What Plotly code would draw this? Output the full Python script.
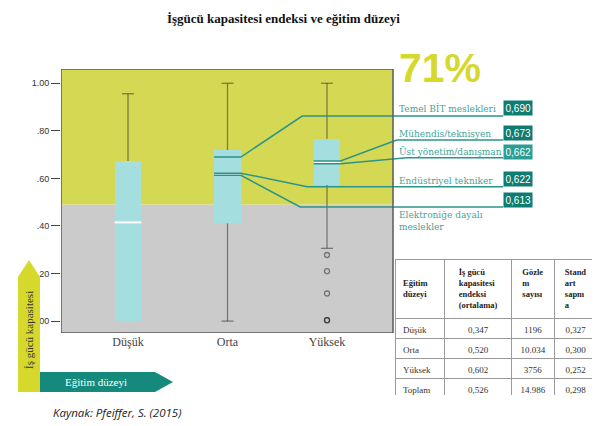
import plotly.graph_objects as go

# ---------------- data ----------------
categories = ["Düşük", "Orta", "Yüksek"]
q1 = [0.0, 0.411, 0.572]
median = [0.415, 0.618, 0.668]
q3 = [0.673, 0.719, 0.767]
whisker_low = [0.0, 0.0, 0.306]
whisker_high = [0.956, 1.0, 1.0]
outliers_yuksek = [0.278, 0.21, 0.116, 0.004, 0.004, 0.004]
yellow_threshold = 0.49

occ_labels = ["Temel BİT meslekleri", "Mühendis/teknisyen", "Üst yönetim/danışman",
              "Endüstriyel tekniker", "Elektroniğe dayalı<br>meslekler"]
occ_values = [0.690, 0.673, 0.662, 0.622, 0.613]
occ_value_text = ["0,690", "0,673", "0,662", "0,622", "0,613"]
occ_group = [1, 2, 2, 1, 1]

big_label = "71%"

table_header = ["&nbsp;<br><b>Eğitim<br>düzeyi</b>",
                "<b>İş gücü<br>kapasitesi<br>endeksi<br>(ortalama)</b>",
                "<b>Gözle<br>m<br>sayısı</b>", "<b>Stand<br>art<br>sapm<br>a</b>"]
table_level = ["Düşük", "Orta", "Yüksek", "Toplam"]
table_mean = ["0,347", "0,520", "0,602", "0,526"]
table_n = ["1196", "10.034", "3756", "14.986"]
table_sd = ["0,327", "0,300", "0,252", "0,298"]

# ---------------- layout constants ----------------
W, H = 600, 426
OFF = 8  # page body margin
def px_x(p): return (p - OFF) / W
def px_y(p): return 1 - (p - OFF) / H

X_RANGE = [-0.673, 4.14]
Y_RANGE = [-0.05, 1.06]
FRAME_RIGHT = 2.663
BOX_HW = 0.135
CAP_HW = 0.06
label_y = [0.862, 0.761, 0.687, 0.565, 0.480]
elbow_x = [1.75, 2.70, 2.80, 1.80, 1.73]
line_end_x = 3.77
label_x = 2.70
label_text_y = [0.896, 0.787, 0.715, 0.589, 0.419]
value_box_x = 3.915
value_box_y = [0.898, 0.791, 0.713, 0.597, 0.509]
value_box_col = ["#0f7c72", "#0f7c72", "#2a9e94", "#0f7c72", "#0f7c72"]

YELLOW = "#d5d852"
GRAY = "#cbcbcb"
CYAN = "#a5dede"
TEAL = "#2b948a"
WHISK = "rgba(50,50,50,0.55)"

xs = list(range(len(categories)))
fig = go.Figure()

# box bodies
fig.add_trace(go.Bar(x=xs, base=q1, y=[b - a for a, b in zip(q1, q3)], width=2 * BOX_HW,
                     marker=dict(color=CYAN, line=dict(width=0)), hoverinfo="skip",
                     showlegend=False))

# whiskers
wx, wy = [], []
for i in xs:
    wx += [i, i, None, i - CAP_HW, i + CAP_HW, None]
    wy += [q3[i], whisker_high[i], None, whisker_high[i], whisker_high[i], None]
    if whisker_low[i] < q1[i]:
        wx += [i, i, None, i - CAP_HW, i + CAP_HW, None]
        wy += [q1[i], whisker_low[i], None, whisker_low[i], whisker_low[i], None]
fig.add_trace(go.Scatter(x=wx, y=wy, mode="lines", line=dict(color=WHISK, width=1.3),
                         hoverinfo="skip", showlegend=False))

# outliers
fig.add_trace(go.Scatter(x=[2] * len(outliers_yuksek), y=outliers_yuksek, mode="markers",
                         marker=dict(symbol="circle-open", size=5,
                                     line=dict(color="rgba(60,60,60,0.6)", width=1.3),
                                     color="rgba(60,60,60,0.6)"),
                         hoverinfo="skip", showlegend=False))

# medians
mx, my = [], []
for i in xs:
    mx += [i - BOX_HW, i + BOX_HW, None]
    my += [median[i], median[i], None]
fig.add_trace(go.Scatter(x=mx, y=my, mode="lines", line=dict(color="white", width=2),
                         hoverinfo="skip", showlegend=False))

# occupation lines & connectors
for k in range(len(occ_values)):
    g = occ_group[k]
    v = occ_values[k]
    fig.add_trace(go.Scatter(x=[g - BOX_HW, g + BOX_HW, elbow_x[k], line_end_x],
                             y=[v, v, label_y[k], label_y[k]], mode="lines",
                             line=dict(color=TEAL, width=1.5), hoverinfo="skip",
                             showlegend=False))
    fig.add_annotation(x=label_x, y=label_text_y[k], xref="x", yref="y", text=occ_labels[k],
                       showarrow=False, xanchor="left", yanchor="middle", align="left",
                       font=dict(family="DejaVu Serif", size=9, color="#3fa59c"))
    fig.add_annotation(x=value_box_x, y=value_box_y[k], xref="x", yref="y",
                       text=occ_value_text[k], showarrow=False, xanchor="center",
                       yanchor="middle", bgcolor=value_box_col[k], borderpad=1.5,
                       font=dict(family="Liberation Sans", size=10, color="white"))

# table
fig.add_trace(go.Table(
    domain=dict(x=[px_x(395), px_x(597)], y=[px_y(395), px_y(259)]),
    columnwidth=[50, 67, 43, 43],
    header=dict(values=table_header, height=54, align=["left", "center", "center", "center"],
                fill_color="white", line=dict(color="#9a9a9a", width=1),
                font=dict(family="Liberation Serif", size=8.5, color="#222")),
    cells=dict(values=[table_level, table_mean, table_n, table_sd], height=20,
               align=["left", "center", "center", "center"], fill_color="white",
               line=dict(color="#9a9a9a", width=1),
               font=dict(family="Liberation Serif", size=9, color="#333")),
))

# background regions and frame
shapes = [
    dict(type="rect", xref="x", yref="y", x0=X_RANGE[0], x1=FRAME_RIGHT, y0=Y_RANGE[0],
         y1=yellow_threshold, fillcolor=GRAY, line=dict(width=0), layer="below"),
    dict(type="rect", xref="x", yref="y", x0=X_RANGE[0], x1=FRAME_RIGHT, y0=yellow_threshold,
         y1=Y_RANGE[1], fillcolor=YELLOW, line=dict(width=0), layer="below"),
    dict(type="rect", xref="x", yref="y", x0=X_RANGE[0], x1=FRAME_RIGHT, y0=Y_RANGE[0],
         y1=Y_RANGE[1], fillcolor="rgba(0,0,0,0)", line=dict(color="#5a5a5a", width=1.5),
         layer="above"),
]

def path(points):
    return "M " + " L ".join(f"{px_x(a):.4f},{px_y(b):.4f}" for a, b in points) + " Z"

shapes.append(dict(type="path", xref="paper", yref="paper",
                   path=path([(18, 392), (18, 277), (29, 260), (40, 277), (40, 392)]),
                   fillcolor="#d6d92c", line=dict(width=0)))
shapes.append(dict(type="path", xref="paper", yref="paper",
                   path=path([(40, 372), (155, 372), (173, 382), (155, 392), (40, 392)]),
                   fillcolor="#14897c", line=dict(width=0)))

annotations = [
    dict(x=px_x(283), y=px_y(18), text="<b>İşgücü kapasitesi endeksi ve eğitim düzeyi</b>",
         font=dict(family="Liberation Serif", size=13, color="#111")),
    dict(x=px_x(440), y=px_y(68), text=f"<b>{big_label}</b>",
         font=dict(family="Liberation Sans", size=41, color="#d5d92e")),
    dict(x=px_x(29), y=px_y(330), text="İş gücü kapasitesi", textangle=-90,
         font=dict(family="Liberation Serif", size=11, color="#333")),
    dict(x=px_x(96), y=px_y(382), text="Eğitim düzeyi",
         font=dict(family="Liberation Serif", size=11, color="white")),
    dict(x=px_x(117), y=px_y(412), text="<i>Kaynak: Pfeiffer, S. (2015)</i>",
         font=dict(family="Open Sans", size=11.5, color="#222")),
]

fig.update_layout(
    width=W, height=H, margin=dict(l=0, r=0, t=0, b=0),
    paper_bgcolor="white", plot_bgcolor="white", showlegend=False,
    shapes=shapes, bargap=0,
    xaxis=dict(domain=[px_x(61), px_x(540)], range=X_RANGE, tickvals=xs, ticktext=categories,
               showgrid=False, zeroline=False, showline=False, ticks="", ticklen=3,
               tickfont=dict(family="Liberation Serif", size=12, color="#444"),
               fixedrange=True),
    yaxis=dict(domain=[px_y(333), px_y(69)], range=Y_RANGE,
               tickvals=[0, 0.2, 0.4, 0.6, 0.8, 1.0],
               ticktext=[".00", ".20", ".40", ".60", ".80", "1.00"],
               showgrid=False, zeroline=False, showline=False, ticks="outside", ticklen=9,
               tickcolor="#444", tickwidth=1,
               tickfont=dict(family="Liberation Sans", size=9, color="#333"),
               fixedrange=True),
)
for a in annotations:
    fig.add_annotation(xref="paper", yref="paper", showarrow=False, xanchor="center",
                       yanchor="middle", **a)

fig.write_html("out.html")
